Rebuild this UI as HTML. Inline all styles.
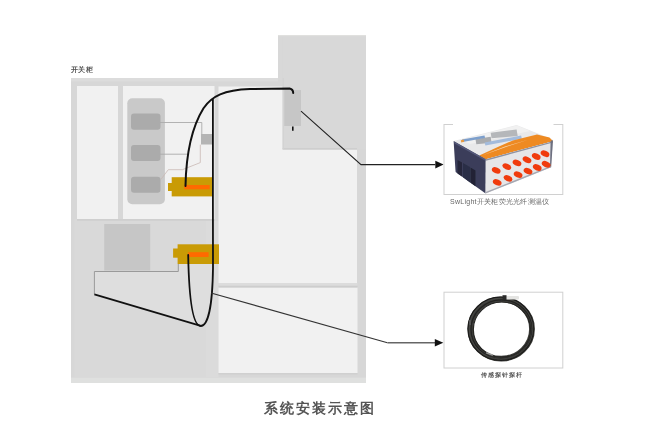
<!DOCTYPE html>
<html><head><meta charset="utf-8">
<style>
html,body{margin:0;padding:0;background:#fff;}
body{width:658px;height:425px;overflow:hidden;position:relative;font-family:"Liberation Sans",sans-serif;}
svg{position:absolute;left:0;top:0;}
.t{position:absolute;white-space:nowrap;color:#444;line-height:1;will-change:transform;}
</style></head><body>
<svg width="658" height="425" viewBox="0 0 658 425">
  <defs><filter id="bl" x="-10%" y="-10%" width="120%" height="120%"><feGaussianBlur stdDeviation="0.45"/></filter></defs>
  <!-- cabinet body -->
  <rect x="71" y="78" width="295" height="304.8" fill="#d7d7d7"/>
  <rect x="278" y="35" width="88" height="45" fill="#d8d8d8"/>
  <rect x="71" y="78" width="207" height="3.5" fill="#dcdcdc"/>
  <!-- top-left panels -->
  <rect x="77" y="86" width="41" height="133" fill="#f1f1f1"/>
  <rect x="123" y="86" width="91.5" height="133" fill="#f1f1f1"/>
  <!-- lower left lighter area -->
  <rect x="74.5" y="219" width="140" height="158" fill="#d9d9d9"/>
  <rect x="77" y="219" width="137.5" height="1.8" fill="#cfcfcf"/>
  <rect x="206" y="221" width="12.5" height="156" fill="#dbdbdb"/>
  <rect x="71" y="377" width="295" height="5.8" fill="#dfe0df"/>
  <rect x="71" y="377" width="295" height="1" fill="#dadada"/>
  <!-- right upper panel -->
  <rect x="218.5" y="86.5" width="138.5" height="196.5" fill="#f1f1f1"/>
  <rect x="282.6" y="35" width="83.4" height="114.5" fill="#d8d8d8"/>
  <rect x="282.6" y="148" width="74.4" height="1.6" fill="#cecece"/>
  <rect x="282.6" y="78" width="1.2" height="71" fill="#d2d2d2"/>
  <rect x="278" y="35" width="88" height="1.2" fill="#e0e0de"/>
  <!-- right lower panel -->
  <rect x="218.5" y="287.5" width="139" height="85.5" fill="#f1f1f1"/>
  <rect x="218.5" y="373" width="139" height="1.5" fill="#d0d0d0"/>
  <rect x="218.5" y="283" width="139" height="2.8" fill="#dcdcdc"/><rect x="218.5" y="285.8" width="139" height="1.7" fill="#cdcdcd"/>

  <!-- rounded module -->
  <rect x="127.3" y="98.2" width="37.6" height="106" rx="5" fill="#c9c9c9"/>
  <rect x="131" y="113.5" width="29.5" height="16.3" rx="3" fill="#ababab"/>
  <rect x="131" y="145" width="29.5" height="16" rx="3" fill="#ababab"/>
  <rect x="131" y="176.7" width="29.5" height="16" rx="3" fill="#ababab"/>
  <!-- thin lines -->
  <polyline points="160,122.5 201.8,122.5 201.8,134" fill="none" stroke="#aaaaaa" stroke-width="0.9"/>
  <polyline points="160,154.2 189,154.2" fill="none" stroke="#aaaaaa" stroke-width="0.9"/>
  <polyline points="160.8,179.5 168.3,169.7 182.4,169.7 200.3,162.6 200.3,144.7" fill="none" stroke="#c9b9b4" stroke-width="0.8"/>
  <rect x="201" y="134" width="11.5" height="10.5" fill="#b4b4b4"/>

  <!-- dark square lower-left -->
  <rect x="104.2" y="224" width="46" height="46.5" fill="#c6c6c6"/>
  <!-- tray -->
  <polygon points="94.4,271.5 178.3,271.5 178.3,264 213,264 213,300 200.8,325.8 94.4,294.3" fill="#dedede"/>
  <polyline points="94.4,294.3 94.4,271.5 178.3,271.5 178.3,264" fill="none" stroke="#9a9a9a" stroke-width="1"/>
  <line x1="94.4" y1="294.3" x2="200.8" y2="325.8" stroke="#111" stroke-width="1.8"/>

  <!-- connectors -->
  <rect x="171.7" y="177.2" width="41.3" height="19.2" fill="#c99b05"/>
  <rect x="168" y="183" width="5" height="8" fill="#c99b05"/>
  <rect x="184.3" y="185" width="25.4" height="4.3" fill="#ff6a00"/>
  <rect x="177.6" y="244.3" width="41.4" height="19.7" fill="#c99b05"/>
  <rect x="173.1" y="248.5" width="5" height="9.2" fill="#c99b05"/>
  <rect x="188.2" y="252.2" width="20.4" height="4.8" fill="#ff6a00"/>

  <!-- top right gray box -->
  <rect x="284.2" y="90.1" width="16.8" height="35.9" fill="#c6c6c6"/>
  <line x1="292.8" y1="126.6" x2="292.8" y2="130.8" stroke="#111" stroke-width="1.6"/>

  <!-- cables -->
  <path d="M185.5,186 C186,160 190,130 203.5,108.2 C212,96 224,90 250,89 L289.6,88.4 Q293.2,89 293.2,93" fill="none" stroke="#111" stroke-width="2" stroke-linecap="round"/>
  <path d="M212.9,99.4 L212.9,200 L213,268 C212.5,306 208,326 200.8,326 C193,326 189,300 188.2,255" fill="none" stroke="#111" stroke-width="1.8" stroke-linecap="round"/>

  <!-- leader lines -->
  <polyline points="301,111.1 361,164.6 435.3,164.6" fill="none" stroke="#222" stroke-width="1.1"/>
  <polygon points="443.6,164.6 435.3,160.8 435.3,168.4" fill="#111"/>
  <polyline points="211,293 387.4,342.7" fill="none" stroke="#333" stroke-width="1.1"/>
  <line x1="387.4" y1="342.7" x2="436" y2="342.7" stroke="#666" stroke-width="1.5"/>
  <polygon points="443.3,342.7 434.8,338.9 434.8,346.5" fill="#111"/>

  <!-- right boxes -->
  <rect x="444" y="124.5" width="118.8" height="70" fill="none" stroke="#d0d0d0" stroke-width="1"/>
  <rect x="453" y="122" width="100.5" height="5" fill="#fff"/>
  <rect x="444" y="292.2" width="118.8" height="75.8" fill="none" stroke="#d0d0d0" stroke-width="1"/>
  <!-- device -->
  <g filter="url(#bl)">
    <polygon points="453.6,141 516.6,125 553,139.5 485.8,159.3" fill="#e9e9ea"/>
    <polygon points="460,140 517,125.5 530,131 470,144" fill="#f1f1f1"/>
    <polygon points="475.5,139 490.7,136.7 491.5,142.8 476.3,144.3" fill="#a9abae"/>
    <polygon points="490.7,132.7 516.6,129.5 517.7,136 491.5,138.3" fill="#b5b7ba"/>
    <polygon points="462,139.5 484.5,135.5 485,138 462.5,142" fill="#7d9fcc"/>
    <rect x="461" y="140" width="3" height="2.2" fill="#e89a40" transform="rotate(-12 462 141)"/>
    <polygon points="484.6,142.5 521.1,135.5 521.9,138.8 485.4,145.5" fill="#a3bbdc"/>
    <polygon points="479.3,155.6 500,146 512.8,140.5 537,134.6 549.5,137.6 553,141.2 485.8,159.3" fill="#ee8a22"/>
    <polygon points="482,155.5 505,146.5 528,139.8 508,146.2" fill="#f8dcb8"/>
    <polygon points="453.6,141 485.8,159.3 485.6,193.6 455.6,172" fill="#3b3e5a"/>
    <polygon points="454,141.5 485.8,159.3 485.8,161 454.5,143.5" fill="#55597a"/>
    <polygon points="457.5,160 462,162.5 462,176.6 457.5,173.4" fill="#25273b"/>
    <polygon points="463,163 470,167 470,182.4 463,177.3" fill="#2c2f46"/>
    <polygon points="470.5,167.5 475.5,170.5 475.5,186.3 470.5,182.7" fill="#202235"/>
    <polygon points="485.8,159.3 553,141.2 550.6,167.5 485.6,193.6" fill="#e6e6e8"/>
    <polygon points="485.8,159.3 553,141.2 553,142.6 486,160.8" fill="#8f92a0"/>
    <polygon points="550.6,140.8 553,140.2 551.2,167.2 550,167.5" fill="#6d7080"/>
    <polygon points="485.6,192 550.6,166 550.6,167.5 485.6,193.6" fill="#a6a8b2"/>
  </g>
  <g fill="#f03a10" filter="url(#bl)">
    <ellipse cx="496.2" cy="170.4" rx="4.6" ry="2.9" transform="rotate(25 496.2 170.4)"/>
    <ellipse cx="506.8" cy="166.6" rx="4.6" ry="2.9" transform="rotate(25 506.8 166.6)"/>
    <ellipse cx="517" cy="162.9" rx="4.6" ry="2.9" transform="rotate(25 517 162.9)"/>
    <ellipse cx="527" cy="159.8" rx="4.6" ry="2.9" transform="rotate(25 527 159.8)"/>
    <ellipse cx="536.2" cy="156.5" rx="4.6" ry="2.9" transform="rotate(25 536.2 156.5)"/>
    <ellipse cx="545" cy="153.7" rx="4.6" ry="2.9" transform="rotate(25 545 153.7)"/>
    <ellipse cx="497.2" cy="182.4" rx="4.6" ry="2.9" transform="rotate(25 497.2 182.4)"/>
    <ellipse cx="508" cy="178.4" rx="4.6" ry="2.9" transform="rotate(25 508 178.4)"/>
    <ellipse cx="518.1" cy="174.6" rx="4.6" ry="2.9" transform="rotate(25 518.1 174.6)"/>
    <ellipse cx="528" cy="171.1" rx="4.6" ry="2.9" transform="rotate(25 528 171.1)"/>
    <ellipse cx="537.2" cy="167.5" rx="4.6" ry="2.9" transform="rotate(25 537.2 167.5)"/>
    <ellipse cx="546.1" cy="164.3" rx="4.6" ry="2.9" transform="rotate(25 546.1 164.3)"/>
  </g>
  <!-- coil -->
  <g filter="url(#bl)">
  <ellipse cx="501.2" cy="329" rx="30.8" ry="29.7" fill="none" stroke="#3d3d3a" stroke-width="5.8"/>
  <ellipse cx="500.8" cy="328.8" rx="32.8" ry="31.6" fill="none" stroke="#1e1e1c" stroke-width="1.3"/>
  <ellipse cx="501.6" cy="329.3" rx="30.6" ry="29.4" fill="none" stroke="#232321" stroke-width="1.2"/>
  <ellipse cx="501.9" cy="329.6" rx="28.6" ry="27.6" fill="none" stroke="#252523" stroke-width="1.2"/>
  <ellipse cx="501" cy="328.6" rx="31.8" ry="30.4" fill="none" stroke="#4a4a47" stroke-width="0.7"/>
  <rect x="505" y="296" width="14" height="3.5" rx="1" fill="#e4e4e2"/>
  <rect x="502.5" y="295.2" width="4" height="5" fill="#2a2a2a"/>
  <rect x="486" y="353" width="7" height="1.6" fill="#9a9a98" transform="rotate(20 489 354)"/>
  <rect x="469" y="320" width="2" height="5" fill="#555"/>
  </g>
</svg>
<div class="t" style="left:71px;top:67.2px;font-size:6.5px;letter-spacing:0.3px;font-weight:bold;color:#505050;">开关柜</div>
<div class="t" style="left:450px;top:198px;font-size:7px;letter-spacing:0.27px;color:#666;">SwLight开关柜荧光光纤测温仪</div>
<div class="t" style="left:481px;top:372px;font-size:6.1px;letter-spacing:1px;font-weight:bold;color:#555;">传感探针探杆</div>
<div class="t" style="left:264px;top:401px;font-size:14px;letter-spacing:2.05px;color:#555;font-weight:bold;">系统安装示意图</div>
</body></html>
